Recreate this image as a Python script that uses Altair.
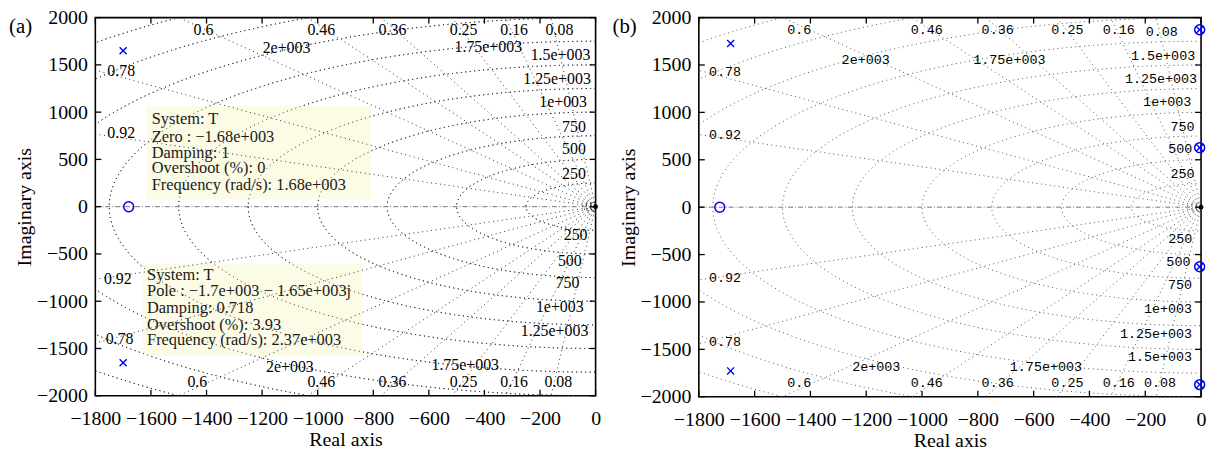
import altair as alt
import numpy as np
import pandas as pd

# ---------------- data ----------------
zeta_values = [0.08, 0.16, 0.25, 0.36, 0.46, 0.6, 0.78, 0.92]
wn_values = [250, 500, 750, 1000, 1250, 1500, 1750, 2000, 2250, 2500]
wn_small = [12, 24, 36, 48]
x_ticks = [-1800, -1600, -1400, -1200, -1000, -800, -600, -400, -200, 0]
y_ticks = [-2000, -1500, -1000, -500, 0, 500, 1000, 1500, 2000]

# panel (a) poles / zeros
a_pole_re = [-1700, -1700]
a_pole_im = [1650, -1650]
a_zero_re = [-1680]
a_zero_im = [0]

# panel (b) poles / zeros
b_pole_re = [-1686, -1686, -5, -5, -5, -5]
b_pole_im = [1727, -1727, 1872, -1872, 628, -628]
b_zero_re = [-1725, -5, -5, -5, -5]
b_zero_im = [0, 1872, -1872, 628, -628]

# damping labels
a_damp_lbl = ["0.6", "0.46", "0.36", "0.25", "0.16", "0.08",
              "0.6", "0.46", "0.36", "0.25", "0.16", "0.08",
              "0.78", "0.92", "0.92", "0.78"]
a_damp_x = [-1411, -987, -731, -475, -293, -130,
            -1433, -987, -731, -475, -293, -134,
            -1707, -1707, -1719, -1713]
a_damp_y = [1867, 1867, 1867, 1867, 1867, 1867,
            -1853, -1853, -1853, -1853, -1853, -1853,
            1430, 782, -765, -1405]

b_damp_lbl = a_damp_lbl
b_damp_x = [-1440, -983, -729, -479, -295, -141,
            -1440, -983, -729, -479, -295, -147,
            -1706, -1706, -1706, -1706]
b_damp_y = [1874, 1874, 1874, 1874, 1874, 1850,
            -1860, -1860, -1860, -1860, -1860, -1860,
            1424, 761, -750, -1421]

# natural-frequency labels (right aligned near the imaginary axis)
a_fr_lbl = ["1.5e+003", "1.25e+003", "1e+003", "750", "500", "250",
            "250", "500", "750", "1e+003", "1.25e+003"]
a_fr_x = [-19, -17, -31, -35, -35, -35, -29, -50, -58, -43, -26]
a_fr_y = [1604, 1349, 1108, 845, 607, 344, -302, -575, -811, -1066, -1311]
# natural-frequency labels (centred)
a_frc_lbl = ["2e+003", "1.75e+003", "1.75e+003", "2e+003"]
a_frc_x = [-1112, -386, -469, -1100]
a_frc_y = [1682, 1692, -1675, -1693]

b_fr_lbl = ["1.5e+003", "1.25e+003", "1e+003", "750", "500", "250",
            "250", "500", "750", "1e+003", "1.25e+003", "1.5e+003"]
b_fr_x = [-21, -14, -35, -23, -31, -23, -31, -38, -32, -32, -32, -32]
b_fr_y = [1599, 1351, 1110, 845, 611, 349, -332, -576, -820, -1075, -1337, -1581]
b_frc_lbl = ["2e+003", "1.75e+003", "1.75e+003", "2e+003"]
b_frc_x = [-1202, -687, -556, -1164]
b_frc_y = [1553, 1553, -1682, -1682]

# data tips (panel a)
tip1_lines = ["System: T", "Zero : \u22121.68e+003", "Damping: 1",
              "Overshoot (%): 0", "Frequency (rad/s): 1.68e+003"]
tip1_x = -1597
tip1_y = [922, 740, 572, 407, 233]
tip1_box = [-1615, -808, 1066, 79]
tip2_lines = ["System: T", "Pole : \u22121.7e+003 \u2212 1.65e+003j", "Damping: 0.718",
              "Overshoot (%): 3.93", "Frequency (rad/s): 2.37e+003"]
tip2_x = -1614
tip2_y = [-722, -890, -1073, -1247, -1415]
tip2_box = [-1630, -839, -601, -1580]

# ---------------- helpers ----------------
SERIF = "Liberation Serif"
MONO = "Liberation Mono"
X_DOM = [-1800, 0]
Y_DOM = [-2000, 2000]


def circle_frame(radii):
    rows = []
    th = np.linspace(np.pi / 2, 3 * np.pi / 2, 181)
    for r in radii:
        for i, t in enumerate(th):
            rows.append({"wn": r, "i": i, "re": r * np.cos(t), "im": r * np.sin(t)})
    return pd.DataFrame(rows)


def damping_frame(zetas):
    L = 5000.0
    rows = []
    for z in zetas:
        s = np.sqrt(1 - z * z)
        rows.append({"z": z, "x0": 0, "y0": 0, "x1": -L * z, "y1": L * s})
        rows.append({"z": z, "x0": 0, "y0": 0, "x1": -L * z, "y1": -L * s})
    return pd.DataFrame(rows)


def panel(tag, W, H, poles, zeros, damp, fr, frc, lbl_font, lbl_size, grid_color, tips=None):
    xs = alt.Scale(domain=X_DOM, nice=False, zero=False)
    ys = alt.Scale(domain=Y_DOM, nice=False, zero=False)
    xaxis = alt.Axis(values=x_ticks, format="d", ticks=False, domain=False, grid=False,
                     labelFont=SERIF, labelFontSize=20, labelColor="black",
                     labelPadding=13, labelOverlap=False, labelFlush=False,
                     title="Real axis", titleFont=SERIF, titleFontSize=20,
                     titleFontWeight="normal", titleColor="black", titlePadding=1)
    yaxis = alt.Axis(values=y_ticks, format="d", ticks=False, domain=False, grid=False,
                     labelFont=SERIF, labelFontSize=20, labelColor="black",
                     labelPadding=8, labelOverlap=False, labelFlush=False,
                     title="Imaginary axis", titleFont=SERIF, titleFontSize=20,
                     titleFontWeight="normal", titleColor="black", titlePadding=2)

    def X(f):
        return alt.X(f, type="quantitative", scale=xs, axis=xaxis, title="Real axis")

    def Y(f):
        return alt.Y(f, type="quantitative", scale=ys, axis=yaxis, title="Imaginary axis")

    layers = []
    circ = circle_frame(wn_values + wn_small)
    grid_line = dict(clip=True, color=grid_color, strokeWidth=1, strokeDash=[1, 3.5])
    layers.append(
        alt.Chart(circ).mark_line(**grid_line).encode(
            x=X("re"), y=Y("im"), detail="wn:N", order="i:Q")
    )
    if tips is not None:
        for box in tips["boxes"]:
            bdf = pd.DataFrame({"x1": [box[0]], "x2": [box[1]], "y1": [box[2]], "y2": [box[3]]})
            layers.append(
                alt.Chart(bdf).mark_rect(color="#FBFBE6").encode(
                    x=X("x1"), x2="x2:Q", y=Y("y1"), y2="y2:Q")
            )
        layers.append(
            alt.Chart(circ).mark_line(**grid_line).encode(
                x=X("re"), y=Y("im"), detail="wn:N", order="i:Q")
        )
    dmp = damping_frame(zeta_values)
    layers.append(
        alt.Chart(dmp).mark_rule(**grid_line).encode(
            x=X("x0"), y=Y("y0"), x2="x1:Q", y2="y1:Q")
    )
    real_ax = pd.DataFrame({"x1": [X_DOM[0]], "x2": [X_DOM[1]], "y": [0]})
    layers.append(
        alt.Chart(real_ax).mark_rule(clip=True, color="#777", strokeWidth=1,
                                     strokeDash=[5, 2, 1, 2]).encode(
            x=X("x1"), x2="x2:Q", y=Y("y"))
    )
    # inward tick marks on all four sides
    xt = pd.DataFrame({"v": x_ticks})
    yt = pd.DataFrame({"v": y_ticks})
    for yv in [(H, H - 6), (0, 6)]:
        layers.append(alt.Chart(xt).mark_rule(color="black", strokeWidth=1.3).encode(
            x=X("v"), y=alt.value(yv[0]), y2=alt.value(yv[1])))
    for xv in [(0, 6), (W, W - 6)]:
        layers.append(alt.Chart(yt).mark_rule(color="black", strokeWidth=1.3).encode(
            y=Y("v"), x=alt.value(xv[0]), x2=alt.value(xv[1])))

    # grid labels
    ddf = pd.DataFrame({"t": damp[0], "x": damp[1], "y": damp[2]})
    layers.append(alt.Chart(ddf).mark_text(font=lbl_font, fontSize=lbl_size, color="black",
                                           align="center", baseline="middle").encode(
        x=X("x"), y=Y("y"), text="t:N"))
    fdf = pd.DataFrame({"t": fr[0], "x": fr[1], "y": fr[2]})
    layers.append(alt.Chart(fdf).mark_text(font=lbl_font, fontSize=lbl_size, color="black",
                                           align="right", baseline="middle").encode(
        x=X("x"), y=Y("y"), text="t:N"))
    cdf = pd.DataFrame({"t": frc[0], "x": frc[1], "y": frc[2]})
    layers.append(alt.Chart(cdf).mark_text(font=lbl_font, fontSize=lbl_size, color="black",
                                           align="center", baseline="middle").encode(
        x=X("x"), y=Y("y"), text="t:N"))

    if tips is not None:
        for lines, tx, tys in tips["texts"]:
            tdf = pd.DataFrame({"t": lines, "x": [tx] * len(lines), "y": tys})
            layers.append(alt.Chart(tdf).mark_text(font=SERIF, fontSize=16.5, color="#1a1a1a",
                                                   align="left", baseline="middle").encode(
                x=X("x"), y=Y("y"), text="t:N"))

    # origin marker
    odf = pd.DataFrame({"x": [0], "y": [0]})
    layers.append(alt.Chart(odf).mark_point(shape="circle", filled=True, color="black",
                                            size=22, opacity=1).encode(x=X("x"), y=Y("y")))

    # zeros & poles
    zdf = pd.DataFrame({"x": zeros[0], "y": zeros[1]})
    layers.append(alt.Chart(zdf).mark_point(shape="circle", filled=False, color="#0000FF",
                                            size=100, strokeWidth=1.5, opacity=1).encode(
        x=X("x"), y=Y("y")))
    pdf_ = pd.DataFrame({"x": poles[0], "y": poles[1]})
    layers.append(alt.Chart(pdf_).mark_point(shape="M-1,-1L1,1M-1,1L1,-1", filled=False,
                                             color="#0000FF", size=50, strokeWidth=1.4,
                                             opacity=1).encode(x=X("x"), y=Y("y")))

    # panel tag
    tdf = pd.DataFrame({"t": [tag]})
    layers.append(alt.Chart(tdf).mark_text(font=SERIF, fontSize=21, color="black",
                                           align="left", baseline="middle").encode(
        x=alt.value(-87), y=alt.value(10), text="t:N"))

    return alt.layer(*layers).properties(width=W, height=H)


pa = panel("(a)", 504, 381,
           (a_pole_re, a_pole_im), (a_zero_re, a_zero_im),
           (a_damp_lbl, a_damp_x, a_damp_y),
           (a_fr_lbl, a_fr_x, a_fr_y),
           (a_frc_lbl, a_frc_x, a_frc_y),
           SERIF, 16, "#333",
           tips={"boxes": [tip1_box, tip2_box],
                 "texts": [(tip1_lines, tip1_x, tip1_y), (tip2_lines, tip2_x, tip2_y)]})

pb = panel("(b)", 506, 382,
           (b_pole_re, b_pole_im), (b_zero_re, b_zero_im),
           (b_damp_lbl, b_damp_x, b_damp_y),
           (b_fr_lbl, b_fr_x, b_fr_y),
           (b_frc_lbl, b_frc_x, b_frc_y),
           MONO, 13.5, "#555")

chart = alt.hconcat(pa, pb, spacing=104, bounds="flush").properties(
    padding={"left": 0, "top": -3, "right": 0, "bottom": 0}
).configure_view(stroke="black", strokeWidth=1.6)

chart.save("out.html", embed_options={"renderer": "svg", "actions": False})
